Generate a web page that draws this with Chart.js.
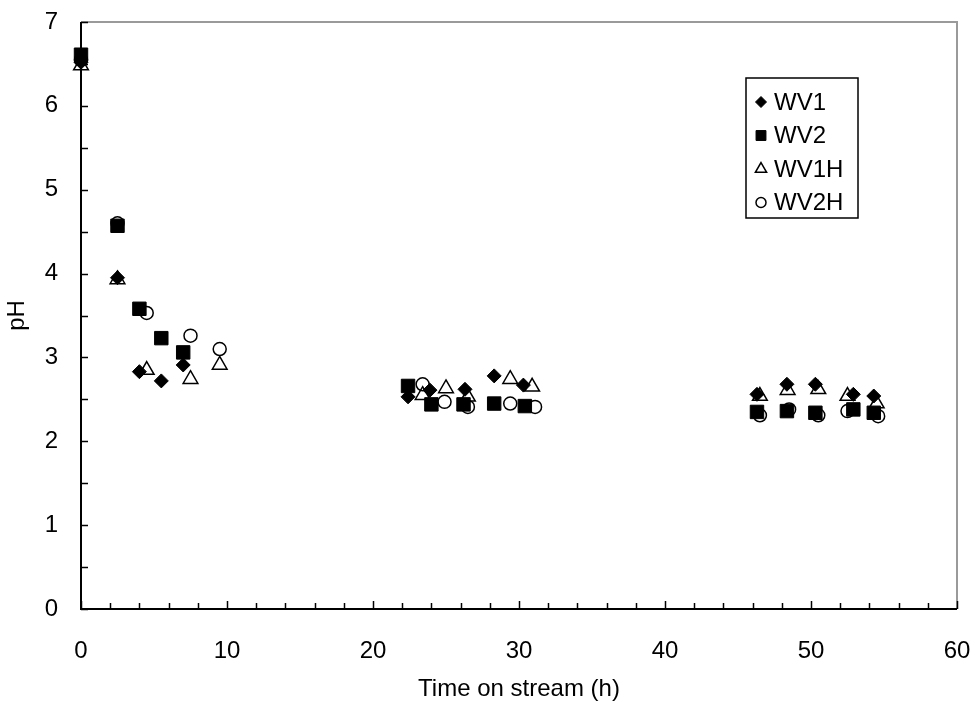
<!DOCTYPE html>
<html>
<head>
<meta charset="utf-8">
<script src="https://cdn.jsdelivr.net/npm/chart.js@4.4.0/dist/chart.umd.min.js"></script>
<style>
    html, body { margin: 0; padding: 0; background: #fff; }
    #chart-wrap { width: 975px; height: 704px; }
</style>
</head>
<body>
<div id="chart-wrap"><canvas id="ph-chart"></canvas></div>
<script>
// Time on stream (h) and pH for each run
const wv1Time = [0, 2.5, 4, 5.5, 7, 22.4, 23.9, 26.3, 28.3, 30.3, 46.3, 48.35, 50.3, 52.9, 54.3];
const wv1Ph = [6.52, 3.95, 2.83, 2.72, 2.91, 2.53, 2.61, 2.62, 2.78, 2.67, 2.56, 2.68, 2.68, 2.56, 2.54];

const wv2Time = [0, 2.5, 4, 5.5, 7, 22.4, 24, 26.2, 28.3, 30.4, 46.3, 48.35, 50.3, 52.9, 54.3];
const wv2Ph = [6.61, 4.57, 3.58, 3.23, 3.06, 2.66, 2.44, 2.44, 2.45, 2.42, 2.35, 2.36, 2.34, 2.38, 2.34];

const wv1hTime = [0, 2.5, 4.5, 7.5, 9.5, 23.4, 25, 26.5, 29.4, 30.9, 46.5, 48.4, 50.5, 52.5, 54.5];
const wv1hPh = [6.48, 3.93, 2.85, 2.74, 2.91, 2.55, 2.63, 2.53, 2.74, 2.65, 2.54, 2.61, 2.62, 2.54, 2.45];

const wv2hTime = [0, 2.5, 4.5, 7.5, 9.5, 23.4, 24.9, 26.5, 29.4, 31.1, 46.5, 48.5, 50.5, 52.5, 54.6];
const wv2hPh = [6.55, 4.6, 3.53, 3.26, 3.1, 2.68, 2.47, 2.41, 2.45, 2.41, 2.31, 2.38, 2.31, 2.36, 2.3];

const seriesLabels = ["WV1", "WV2", "WV1H", "WV2H"];

const FONT = "'Liberation Sans', Arial, Helvetica, sans-serif";
const FONT_SIZE = 24;

function toPoints(xs, ys) {
    return xs.map((x, i) => ({ x: x, y: ys[i] }));
}

// Axis lines, frame and inward tick marks (major + minor)
const frameTicksPlugin = {
    id: "frameTicks",
    beforeDatasetsDraw(chart) {
        const { ctx, chartArea: area, scales } = chart;
        const x = scales.x;
        const y = scales.y;
        ctx.save();

        // grey top and right edges
        ctx.strokeStyle = "#9a9a9a";
        ctx.lineWidth = 2;
        ctx.beginPath();
        ctx.moveTo(area.left, area.top);
        ctx.lineTo(area.right, area.top);
        ctx.lineTo(area.right, area.bottom);
        ctx.stroke();

        ctx.strokeStyle = "#000";
        ctx.lineWidth = 1.5;

        // y ticks every 0.5, pointing into the plot
        for (let v = 0; v <= 7; v += 0.5) {
            const py = Math.round(y.getPixelForValue(v)) + 0.5;
            ctx.beginPath();
            ctx.moveTo(area.left, py);
            ctx.lineTo(area.left + 7, py);
            ctx.stroke();
        }

        // x ticks every 2 h, longer at labelled values
        for (let v = 0; v <= 60; v += 2) {
            const px = Math.round(x.getPixelForValue(v)) + 0.5;
            const len = v % 10 === 0 ? 8 : 6;
            ctx.beginPath();
            ctx.moveTo(px, area.bottom);
            ctx.lineTo(px, area.bottom - len);
            ctx.stroke();
        }

        // left and bottom axis lines
        ctx.lineWidth = 2;
        ctx.beginPath();
        ctx.moveTo(area.left, area.top);
        ctx.lineTo(area.left, area.bottom);
        ctx.lineTo(area.right, area.bottom);
        ctx.stroke();

        ctx.restore();
    },
};

// Boxed legend in the upper right of the plot
const boxLegendPlugin = {
    id: "boxLegend",
    afterDraw(chart) {
        const { ctx } = chart;
        const box = { left: 746, top: 78, width: 112, height: 140 };
        const rowGap = 33.5;
        const small = [5.5, 7, 6.5, 5];

        ctx.save();
        ctx.fillStyle = "#fff";
        ctx.fillRect(box.left, box.top, box.width, box.height);
        ctx.strokeStyle = "#000";
        ctx.lineWidth = 1.5;
        ctx.strokeRect(box.left, box.top, box.width, box.height);

        ctx.font = FONT_SIZE + "px " + FONT;
        ctx.textBaseline = "middle";
        chart.data.datasets.forEach((ds, i) => {
            const cy = box.top + 24 + i * rowGap;
            ctx.fillStyle = ds.backgroundColor;
            ctx.strokeStyle = ds.borderColor;
            ctx.lineWidth = ds.borderWidth;
            Chart.helpers.drawPoint(ctx, {
                pointStyle: ds.pointStyle,
                radius: small[i],
                rotation: 0,
                borderWidth: ds.borderWidth,
            }, box.left + 15, cy);
            ctx.fillStyle = "#000";
            ctx.fillText(ds.label, box.left + 28, cy + 1);
        });
        ctx.restore();
    },
};

const chartCanvas = document.getElementById("ph-chart");

const phChart = new Chart(chartCanvas, {
    type: "scatter",
    data: {
        datasets: [
            {
                label: seriesLabels[0],
                data: toPoints(wv1Time, wv1Ph),
                pointStyle: "rectRot",
                pointRadius: 7,
                backgroundColor: "#000",
                borderColor: "#000",
                borderWidth: 1,
                order: 4,
                clip: false,
            },
            {
                label: seriesLabels[1],
                data: toPoints(wv2Time, wv2Ph),
                pointStyle: "rect",
                pointRadius: 9.5,
                backgroundColor: "#000",
                borderColor: "#000",
                borderWidth: 1,
                order: 3,
                clip: false,
            },
            {
                label: seriesLabels[2],
                data: toPoints(wv1hTime, wv1hPh),
                pointStyle: "triangle",
                pointRadius: 8.5,
                backgroundColor: "rgba(255,255,255,0)",
                borderColor: "#000",
                borderWidth: 1.5,
                order: 2,
                clip: false,
            },
            {
                label: seriesLabels[3],
                data: toPoints(wv2hTime, wv2hPh),
                pointStyle: "circle",
                pointRadius: 6.5,
                backgroundColor: "rgba(255,255,255,0)",
                borderColor: "#000",
                borderWidth: 1.5,
                order: 1,
                clip: false,
            },
        ],
    },
    options: {
        responsive: true,
        maintainAspectRatio: false,
        animation: false,
        events: [],
        layout: {
            padding: { left: 0, top: 22, right: 18, bottom: 0 },
        },
        plugins: {
            legend: { display: false },
            tooltip: { enabled: false },
        },
        scales: {
            x: {
                type: "linear",
                min: 0,
                max: 60,
                // tickLength only spaces the labels; marks come from the plugin
                grid: { display: false, drawTicks: true, tickLength: 28 },
                border: { display: false },
                ticks: {
                    stepSize: 10,
                    padding: 0,
                    color: "#000",
                    maxRotation: 0,
                    font: { family: FONT, size: FONT_SIZE },
                },
                title: {
                    display: true,
                    text: "Time on stream (h)",
                    color: "#000",
                    padding: { top: 0, bottom: 0 },
                    font: { family: FONT, size: FONT_SIZE },
                },
                afterFit(scale) {
                    scale.height = 95;
                },
            },
            y: {
                type: "linear",
                min: 0,
                max: 7,
                grid: { display: false, drawTicks: true, tickLength: 23 },
                border: { display: false },
                ticks: {
                    stepSize: 1,
                    padding: 0,
                    color: "#000",
                    font: { family: FONT, size: FONT_SIZE },
                },
                title: {
                    display: true,
                    text: "pH",
                    color: "#000",
                    padding: { top: 3, bottom: 0 },
                    font: { family: FONT, size: FONT_SIZE },
                },
                afterFit(scale) {
                    scale.width = 81;
                },
            },
        },
    },
    plugins: [frameTicksPlugin, boxLegendPlugin],
});

phChart.update();
</script>
</body>
</html>
